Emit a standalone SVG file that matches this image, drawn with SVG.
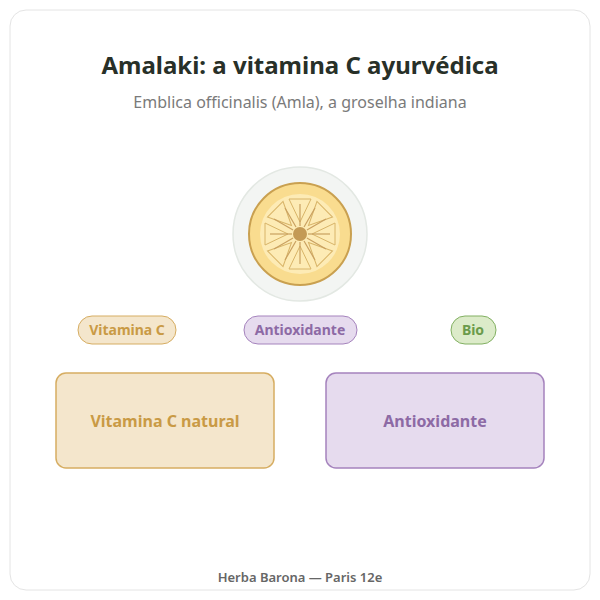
<svg xmlns="http://www.w3.org/2000/svg" width="600" height="600" viewBox="0 0 600 600">
<style>
text{font-family:"Noto Sans","Open Sans","Liberation Sans",sans-serif;text-anchor:middle}
.w{fill:none;stroke:#d8b468;stroke-width:1}
.r{stroke:#c9a060;stroke-width:1.2}
</style>
<defs>
<path id="wedge" d="M0,-12 L-11,-35 L11,-35 Z"/>
<line id="ray" x1="0" y1="-8" x2="0" y2="-30"/>
</defs>
<rect x="10" y="10" width="580" height="580" rx="16" fill="#fff" stroke="#e4e4e4"/>
<text x="300" y="74" font-size="24" font-weight="700" fill="#283028">Amalaki: a vitamina C ayurvédica</text>
<text x="300" y="108" font-size="16" fill="#7a7a7a">Emblica officinalis (Amla), a groselha indiana</text>
<g id="fruit" transform="translate(300,234)">
<circle r="67" fill="#f3f5f3" stroke="#e3e8e3" stroke-width="1.5"/>
<circle r="51" fill="#f9dc8f" stroke="#c9a050" stroke-width="2"/>
<circle r="40" fill="#fdebb5"/>
<g class="w">
<use href="#wedge"/><use href="#wedge" transform="rotate(45)"/><use href="#wedge" transform="rotate(90)"/><use href="#wedge" transform="rotate(135)"/><use href="#wedge" transform="rotate(180)"/><use href="#wedge" transform="rotate(225)"/><use href="#wedge" transform="rotate(270)"/><use href="#wedge" transform="rotate(315)"/>
</g>
<g class="r">
<use href="#ray"/><use href="#ray" transform="rotate(30)"/><use href="#ray" transform="rotate(60)"/><use href="#ray" transform="rotate(90)"/><use href="#ray" transform="rotate(120)"/><use href="#ray" transform="rotate(150)"/><use href="#ray" transform="rotate(180)"/><use href="#ray" transform="rotate(210)"/><use href="#ray" transform="rotate(240)"/><use href="#ray" transform="rotate(270)"/><use href="#ray" transform="rotate(300)"/><use href="#ray" transform="rotate(330)"/>
</g>
<circle r="7" fill="#c49a55"/>
</g>
<g id="tag-vitc"><rect x="78" y="316" width="98" height="28" rx="14" fill="#f4e6cc" stroke="#d6ad62"/><text x="127" y="335" font-size="14" font-weight="700" fill="#c99a45">Vitamina C</text></g>
<g id="tag-antiox"><rect x="244" y="316" width="113" height="28" rx="14" fill="#e6dbee" stroke="#a583bd"/><text x="300" y="335" font-size="14" font-weight="700" fill="#8d6aa5">Antioxidante</text></g>
<g id="tag-bio"><rect x="451" y="316" width="45" height="28" rx="14" fill="#dcebc9" stroke="#82b062"/><text x="473" y="335" font-size="14" font-weight="700" fill="#6b9b4b">Bio</text></g>
<g id="card-vitc"><rect x="56" y="373" width="218" height="95" rx="10" fill="#f4e6cc" stroke="#d6ad62" stroke-width="1.5"/><text x="165" y="427" font-size="16" font-weight="700" fill="#c99a45">Vitamina C natural</text></g>
<g id="card-antiox"><rect x="326" y="373" width="218" height="95" rx="10" fill="#e6dbee" stroke="#a583bd" stroke-width="1.5"/><text x="435" y="427" font-size="16" font-weight="700" fill="#8d6aa5">Antioxidante</text></g>
<g id="connectors"/>
<text x="300" y="582" font-size="13" font-weight="600" fill="#666">Herba Barona — Paris 12e</text>
</svg>
